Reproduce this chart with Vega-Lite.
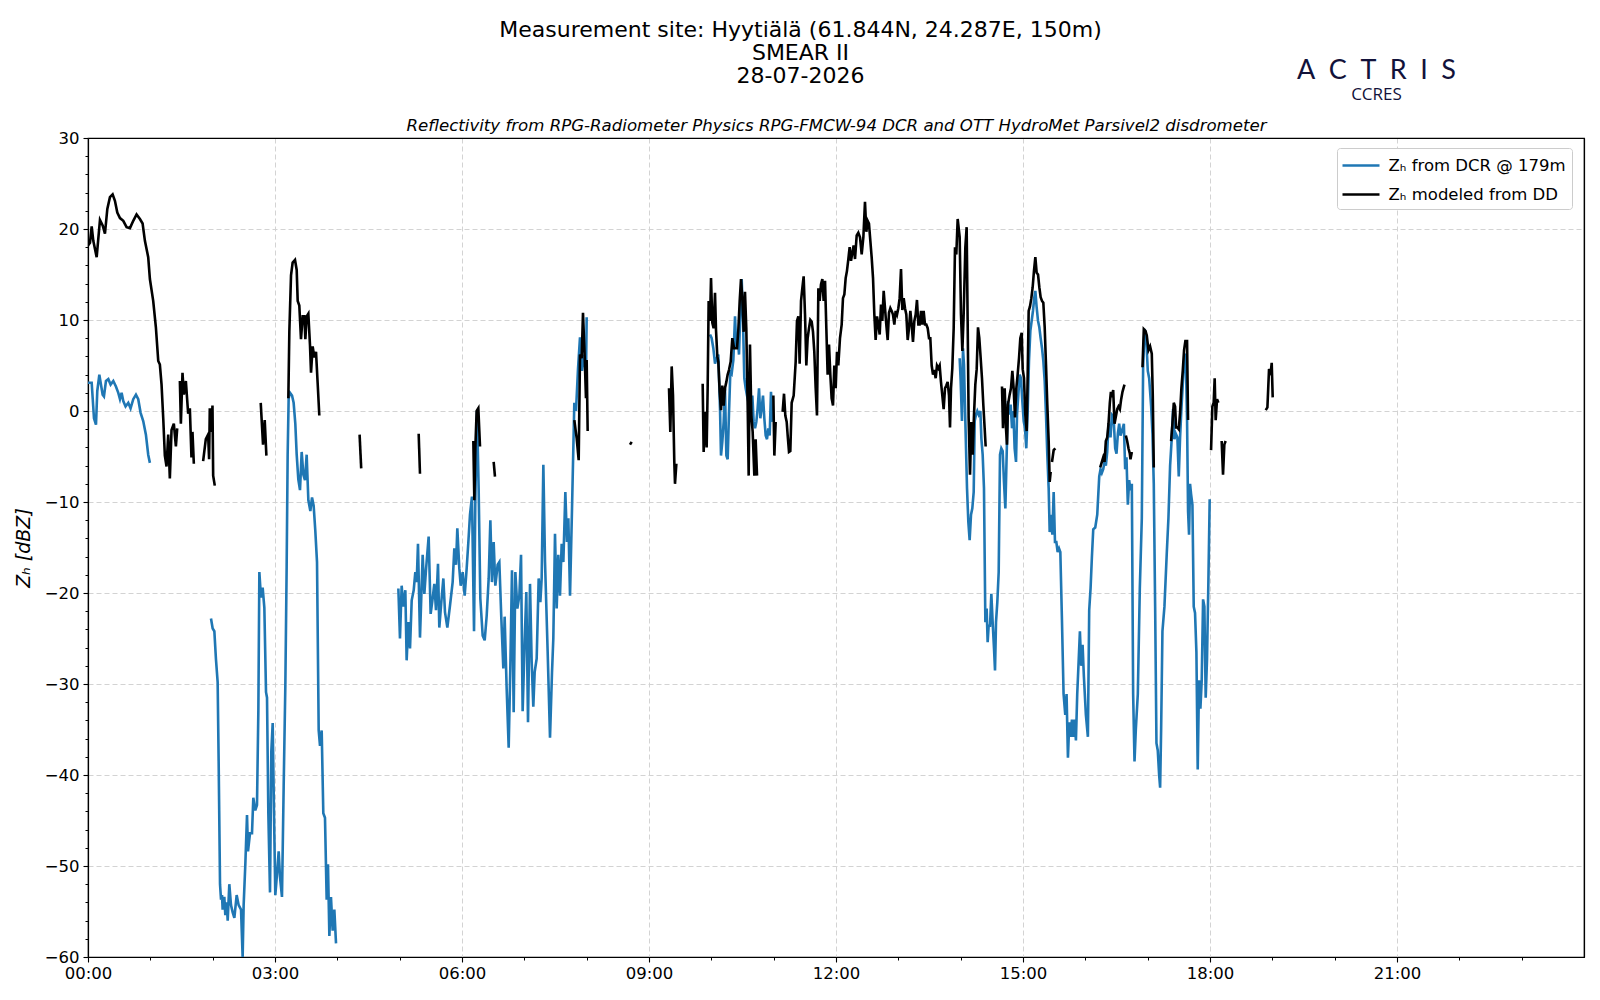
{
  "$schema": "https://vega.github.io/schema/vega-lite/v6.json",
  "width": 1496,
  "height": 819,
  "autosize": {"type": "none"},
  "padding": {"left": 88, "top": 138, "right": 16, "bottom": 43},
  "background": "white",
  "config": {
    "font": "DejaVu Sans",
    "view": {"stroke": "black", "strokeWidth": 1.2}
  },
  "data": {
    "values": [
      {"t":0.000,"z":3.1,"s":"DCR","g":"c1"},{"t":0.059,"z":3.1,"s":"DCR","g":"c1"},{"t":0.096,"z":-0.8,"s":"DCR","g":"c1"},{"t":0.128,"z":-1.5,"s":"DCR","g":"c1"},{"t":0.149,"z":2.2,"s":"DCR","g":"c1"},{"t":0.182,"z":4.0,"s":"DCR","g":"c1"},{"t":0.203,"z":3.1,"s":"DCR","g":"c1"},{"t":0.235,"z":1.8,"s":"DCR","g":"c1"},{"t":0.256,"z":1.6,"s":"DCR","g":"c1"},{"t":0.288,"z":3.3,"s":"DCR","g":"c1"},{"t":0.326,"z":3.5,"s":"DCR","g":"c1"},{"t":0.363,"z":2.9,"s":"DCR","g":"c1"},{"t":0.406,"z":3.3,"s":"DCR","g":"c1"},{"t":0.448,"z":2.7,"s":"DCR","g":"c1"},{"t":0.486,"z":2.0,"s":"DCR","g":"c1"},{"t":0.513,"z":1.3,"s":"DCR","g":"c1"},{"t":0.539,"z":2.0,"s":"DCR","g":"c1"},{"t":0.566,"z":1.1,"s":"DCR","g":"c1"},{"t":0.603,"z":0.5,"s":"DCR","g":"c1"},{"t":0.646,"z":0.9,"s":"DCR","g":"c1"},{"t":0.683,"z":0.3,"s":"DCR","g":"c1"},{"t":0.726,"z":1.3,"s":"DCR","g":"c1"},{"t":0.769,"z":1.8,"s":"DCR","g":"c1"},{"t":0.806,"z":1.3,"s":"DCR","g":"c1"},{"t":0.844,"z":-0.2,"s":"DCR","g":"c1"},{"t":0.886,"z":-1.1,"s":"DCR","g":"c1"},{"t":0.929,"z":-2.6,"s":"DCR","g":"c1"},{"t":0.966,"z":-4.8,"s":"DCR","g":"c1"},{"t":0.993,"z":-5.7,"s":"DCR","g":"c1"},

      {"t":1.973,"z":-22.8,"s":"DCR","g":"c2"},{"t":2.000,"z":-23.9,"s":"DCR","g":"c2"},{"t":2.027,"z":-24.2,"s":"DCR","g":"c2"},{"t":2.053,"z":-27.3,"s":"DCR","g":"c2"},{"t":2.080,"z":-29.8,"s":"DCR","g":"c2"},{"t":2.096,"z":-38.5,"s":"DCR","g":"c2"},{"t":2.118,"z":-52,"s":"DCR","g":"c2"},{"t":2.134,"z":-53.7,"s":"DCR","g":"c2"},{"t":2.150,"z":-53.2,"s":"DCR","g":"c2"},{"t":2.160,"z":-54.8,"s":"DCR","g":"c2"},{"t":2.187,"z":-53.4,"s":"DCR","g":"c2"},{"t":2.203,"z":-55.4,"s":"DCR","g":"c2"},{"t":2.225,"z":-54,"s":"DCR","g":"c2"},{"t":2.241,"z":-56,"s":"DCR","g":"c2"},{"t":2.267,"z":-52,"s":"DCR","g":"c2"},{"t":2.294,"z":-54.3,"s":"DCR","g":"c2"},{"t":2.321,"z":-55.1,"s":"DCR","g":"c2"},{"t":2.348,"z":-55.7,"s":"DCR","g":"c2"},{"t":2.385,"z":-53.2,"s":"DCR","g":"c2"},{"t":2.417,"z":-54.3,"s":"DCR","g":"c2"},{"t":2.455,"z":-54.8,"s":"DCR","g":"c2"},{"t":2.481,"z":-60,"s":"DCR","g":"c2"},{"t":2.497,"z":-54.3,"s":"DCR","g":"c2"},{"t":2.524,"z":-49.8,"s":"DCR","g":"c2"},{"t":2.551,"z":-44.4,"s":"DCR","g":"c2"},{"t":2.567,"z":-48.4,"s":"DCR","g":"c2"},{"t":2.599,"z":-46.4,"s":"DCR","g":"c2"},{"t":2.631,"z":-46.4,"s":"DCR","g":"c2"},{"t":2.652,"z":-42.5,"s":"DCR","g":"c2"},{"t":2.684,"z":-43.9,"s":"DCR","g":"c2"},{"t":2.711,"z":-43.3,"s":"DCR","g":"c2"},{"t":2.733,"z":-32.9,"s":"DCR","g":"c2"},{"t":2.749,"z":-17.7,"s":"DCR","g":"c2"},{"t":2.775,"z":-20.5,"s":"DCR","g":"c2"},{"t":2.802,"z":-19.4,"s":"DCR","g":"c2"},{"t":2.829,"z":-21.6,"s":"DCR","g":"c2"},{"t":2.856,"z":-30.9,"s":"DCR","g":"c2"},{"t":2.872,"z":-31.5,"s":"DCR","g":"c2"},{"t":2.893,"z":-44.2,"s":"DCR","g":"c2"},{"t":2.920,"z":-52.9,"s":"DCR","g":"c2"},{"t":2.941,"z":-37.4,"s":"DCR","g":"c2"},{"t":2.963,"z":-34.3,"s":"DCR","g":"c2"},{"t":2.984,"z":-44.2,"s":"DCR","g":"c2"},{"t":3.005,"z":-53.2,"s":"DCR","g":"c2"},{"t":3.032,"z":-50.9,"s":"DCR","g":"c2"},{"t":3.059,"z":-48.4,"s":"DCR","g":"c2"},{"t":3.080,"z":-51.2,"s":"DCR","g":"c2"},{"t":3.112,"z":-53.4,"s":"DCR","g":"c2"},{"t":3.139,"z":-41.3,"s":"DCR","g":"c2"},{"t":3.166,"z":-30.1,"s":"DCR","g":"c2"},{"t":3.187,"z":-17.1,"s":"DCR","g":"c2"},{"t":3.203,"z":-4.8,"s":"DCR","g":"c2"},{"t":3.219,"z":1.4,"s":"DCR","g":"c2"},{"t":3.241,"z":2.0,"s":"DCR","g":"c2"},{"t":3.273,"z":1.7,"s":"DCR","g":"c2"},{"t":3.299,"z":0.9,"s":"DCR","g":"c2"},{"t":3.326,"z":-1.4,"s":"DCR","g":"c2"},{"t":3.348,"z":-4.8,"s":"DCR","g":"c2"},{"t":3.374,"z":-7.5,"s":"DCR","g":"c2"},{"t":3.401,"z":-8.7,"s":"DCR","g":"c2"},{"t":3.428,"z":-4.5,"s":"DCR","g":"c2"},{"t":3.455,"z":-7.0,"s":"DCR","g":"c2"},{"t":3.481,"z":-7.6,"s":"DCR","g":"c2"},{"t":3.508,"z":-4.8,"s":"DCR","g":"c2"},{"t":3.535,"z":-9.8,"s":"DCR","g":"c2"},{"t":3.567,"z":-11,"s":"DCR","g":"c2"},{"t":3.594,"z":-9.5,"s":"DCR","g":"c2"},{"t":3.620,"z":-10.4,"s":"DCR","g":"c2"},{"t":3.647,"z":-13.2,"s":"DCR","g":"c2"},{"t":3.674,"z":-16.6,"s":"DCR","g":"c2"},{"t":3.701,"z":-35.1,"s":"DCR","g":"c2"},{"t":3.722,"z":-36.8,"s":"DCR","g":"c2"},{"t":3.749,"z":-35.1,"s":"DCR","g":"c2"},{"t":3.775,"z":-44.2,"s":"DCR","g":"c2"},{"t":3.802,"z":-44.7,"s":"DCR","g":"c2"},{"t":3.829,"z":-53.7,"s":"DCR","g":"c2"},{"t":3.850,"z":-49.8,"s":"DCR","g":"c2"},{"t":3.872,"z":-57.7,"s":"DCR","g":"c2"},{"t":3.898,"z":-53.4,"s":"DCR","g":"c2"},{"t":3.925,"z":-57.1,"s":"DCR","g":"c2"},{"t":3.952,"z":-54.8,"s":"DCR","g":"c2"},{"t":3.979,"z":-58.5,"s":"DCR","g":"c2"},

      {"t":4.979,"z":-19.5,"s":"DCR","g":"c3"},{"t":5.005,"z":-25,"s":"DCR","g":"c3"},{"t":5.032,"z":-19.2,"s":"DCR","g":"c3"},{"t":5.059,"z":-21.5,"s":"DCR","g":"c3"},{"t":5.091,"z":-19.7,"s":"DCR","g":"c3"},{"t":5.112,"z":-27.4,"s":"DCR","g":"c3"},{"t":5.139,"z":-23.2,"s":"DCR","g":"c3"},{"t":5.166,"z":-26.1,"s":"DCR","g":"c3"},{"t":5.193,"z":-20.8,"s":"DCR","g":"c3"},{"t":5.225,"z":-19.7,"s":"DCR","g":"c3"},{"t":5.251,"z":-17.7,"s":"DCR","g":"c3"},{"t":5.273,"z":-18.8,"s":"DCR","g":"c3"},{"t":5.294,"z":-14.6,"s":"DCR","g":"c3"},{"t":5.326,"z":-24.9,"s":"DCR","g":"c3"},{"t":5.369,"z":-15.8,"s":"DCR","g":"c3"},{"t":5.396,"z":-20.1,"s":"DCR","g":"c3"},{"t":5.422,"z":-17.5,"s":"DCR","g":"c3"},{"t":5.465,"z":-13.8,"s":"DCR","g":"c3"},{"t":5.497,"z":-22.3,"s":"DCR","g":"c3"},{"t":5.529,"z":-20.6,"s":"DCR","g":"c3"},{"t":5.556,"z":-19,"s":"DCR","g":"c3"},{"t":5.583,"z":-21.9,"s":"DCR","g":"c3"},{"t":5.615,"z":-16.8,"s":"DCR","g":"c3"},{"t":5.636,"z":-23.8,"s":"DCR","g":"c3"},{"t":5.668,"z":-21,"s":"DCR","g":"c3"},{"t":5.701,"z":-18.4,"s":"DCR","g":"c3"},{"t":5.727,"z":-22.1,"s":"DCR","g":"c3"},{"t":5.765,"z":-23.8,"s":"DCR","g":"c3"},{"t":5.807,"z":-21.4,"s":"DCR","g":"c3"},{"t":5.850,"z":-18.8,"s":"DCR","g":"c3"},{"t":5.877,"z":-15.1,"s":"DCR","g":"c3"},{"t":5.904,"z":-16.9,"s":"DCR","g":"c3"},{"t":5.925,"z":-12.9,"s":"DCR","g":"c3"},{"t":5.957,"z":-17.3,"s":"DCR","g":"c3"},{"t":5.979,"z":-19.2,"s":"DCR","g":"c3"},{"t":6.011,"z":-17.7,"s":"DCR","g":"c3"},{"t":6.043,"z":-20.3,"s":"DCR","g":"c3"},{"t":6.075,"z":-17.3,"s":"DCR","g":"c3"},{"t":6.102,"z":-14.4,"s":"DCR","g":"c3"},{"t":6.128,"z":-11.4,"s":"DCR","g":"c3"},{"t":6.160,"z":-9.4,"s":"DCR","g":"c3"},{"t":6.193,"z":-24.2,"s":"DCR","g":"c3"},{"t":6.214,"z":-9.6,"s":"DCR","g":"c3"},{"t":6.241,"z":0.0,"s":"DCR","g":"c3"},{"t":6.267,"z":-8.5,"s":"DCR","g":"c3"},{"t":6.294,"z":-20.6,"s":"DCR","g":"c3"},{"t":6.332,"z":-24.7,"s":"DCR","g":"c3"},{"t":6.364,"z":-25.2,"s":"DCR","g":"c3"},{"t":6.396,"z":-22.5,"s":"DCR","g":"c3"},{"t":6.428,"z":-18.4,"s":"DCR","g":"c3"},{"t":6.455,"z":-12,"s":"DCR","g":"c3"},{"t":6.481,"z":-18.8,"s":"DCR","g":"c3"},{"t":6.508,"z":-14.4,"s":"DCR","g":"c3"},{"t":6.535,"z":-19.2,"s":"DCR","g":"c3"},{"t":6.572,"z":-16.9,"s":"DCR","g":"c3"},{"t":6.599,"z":-16.6,"s":"DCR","g":"c3"},{"t":6.631,"z":-22.8,"s":"DCR","g":"c3"},{"t":6.663,"z":-28.3,"s":"DCR","g":"c3"},{"t":6.684,"z":-22.6,"s":"DCR","g":"c3"},{"t":6.717,"z":-30.6,"s":"DCR","g":"c3"},{"t":6.749,"z":-37,"s":"DCR","g":"c3"},{"t":6.775,"z":-28.3,"s":"DCR","g":"c3"},{"t":6.802,"z":-17.5,"s":"DCR","g":"c3"},{"t":6.829,"z":-33.1,"s":"DCR","g":"c3"},{"t":6.856,"z":-17.7,"s":"DCR","g":"c3"},{"t":6.888,"z":-21.7,"s":"DCR","g":"c3"},{"t":6.920,"z":-20.3,"s":"DCR","g":"c3"},{"t":6.947,"z":-15.8,"s":"DCR","g":"c3"},{"t":6.973,"z":-33,"s":"DCR","g":"c3"},{"t":7.005,"z":-25.4,"s":"DCR","g":"c3"},{"t":7.032,"z":-19.9,"s":"DCR","g":"c3"},{"t":7.059,"z":-34.2,"s":"DCR","g":"c3"},{"t":7.091,"z":-19,"s":"DCR","g":"c3"},{"t":7.118,"z":-27.6,"s":"DCR","g":"c3"},{"t":7.144,"z":-32.5,"s":"DCR","g":"c3"},{"t":7.166,"z":-28.7,"s":"DCR","g":"c3"},{"t":7.198,"z":-27.2,"s":"DCR","g":"c3"},{"t":7.230,"z":-18.4,"s":"DCR","g":"c3"},{"t":7.257,"z":-21,"s":"DCR","g":"c3"},{"t":7.278,"z":-18.4,"s":"DCR","g":"c3"},{"t":7.305,"z":-5.9,"s":"DCR","g":"c3"},{"t":7.332,"z":-16.6,"s":"DCR","g":"c3"},{"t":7.374,"z":-26.4,"s":"DCR","g":"c3"},{"t":7.412,"z":-35.9,"s":"DCR","g":"c3"},{"t":7.444,"z":-28.7,"s":"DCR","g":"c3"},{"t":7.465,"z":-25,"s":"DCR","g":"c3"},{"t":7.492,"z":-13.5,"s":"DCR","g":"c3"},{"t":7.519,"z":-21.7,"s":"DCR","g":"c3"},{"t":7.545,"z":-15.8,"s":"DCR","g":"c3"},{"t":7.572,"z":-20.3,"s":"DCR","g":"c3"},{"t":7.599,"z":-14.6,"s":"DCR","g":"c3"},{"t":7.626,"z":-16.6,"s":"DCR","g":"c3"},{"t":7.658,"z":-8.9,"s":"DCR","g":"c3"},{"t":7.684,"z":-14.4,"s":"DCR","g":"c3"},{"t":7.706,"z":-11.8,"s":"DCR","g":"c3"},{"t":7.733,"z":-20.3,"s":"DCR","g":"c3"},{"t":7.765,"z":-10.7,"s":"DCR","g":"c3"},{"t":7.802,"z":0.9,"s":"DCR","g":"c3"},{"t":7.829,"z":0,"s":"DCR","g":"c3"},{"t":7.861,"z":4.6,"s":"DCR","g":"c3"},{"t":7.893,"z":8.1,"s":"DCR","g":"c3"},{"t":7.925,"z":4.4,"s":"DCR","g":"c3"},{"t":7.957,"z":6.2,"s":"DCR","g":"c3"},{"t":7.989,"z":4,"s":"DCR","g":"c3"},{"t":8.000,"z":10.3,"s":"DCR","g":"c3"},

      {"t":9.979,"z":8.4,"s":"DCR","g":"c4"},{"t":10.005,"z":8,"s":"DCR","g":"c4"},{"t":10.032,"z":6.9,"s":"DCR","g":"c4"},{"t":10.059,"z":5.2,"s":"DCR","g":"c4"},{"t":10.086,"z":5.8,"s":"DCR","g":"c4"},{"t":10.112,"z":6.2,"s":"DCR","g":"c4"},{"t":10.139,"z":0.3,"s":"DCR","g":"c4"},{"t":10.155,"z":-4.9,"s":"DCR","g":"c4"},{"t":10.176,"z":-3.4,"s":"DCR","g":"c4"},{"t":10.198,"z":-1.2,"s":"DCR","g":"c4"},{"t":10.219,"z":2.5,"s":"DCR","g":"c4"},{"t":10.241,"z":-4.9,"s":"DCR","g":"c4"},{"t":10.262,"z":-5.3,"s":"DCR","g":"c4"},{"t":10.283,"z":-0.3,"s":"DCR","g":"c4"},{"t":10.305,"z":4.3,"s":"DCR","g":"c4"},{"t":10.326,"z":4.1,"s":"DCR","g":"c4"},{"t":10.353,"z":5.6,"s":"DCR","g":"c4"},{"t":10.380,"z":10.4,"s":"DCR","g":"c4"},{"t":10.401,"z":6.9,"s":"DCR","g":"c4"},{"t":10.422,"z":8.4,"s":"DCR","g":"c4"},{"t":10.444,"z":6.2,"s":"DCR","g":"c4"},{"t":10.465,"z":11,"s":"DCR","g":"c4"},{"t":10.487,"z":14.5,"s":"DCR","g":"c4"},{"t":10.508,"z":9.9,"s":"DCR","g":"c4"},{"t":10.529,"z":3.6,"s":"DCR","g":"c4"},{"t":10.551,"z":2.5,"s":"DCR","g":"c4"},{"t":10.572,"z":1.7,"s":"DCR","g":"c4"},{"t":10.594,"z":1,"s":"DCR","g":"c4"},{"t":10.615,"z":-1.2,"s":"DCR","g":"c4"},{"t":10.636,"z":-0.5,"s":"DCR","g":"c4"},{"t":10.658,"z":1.7,"s":"DCR","g":"c4"},{"t":10.679,"z":-1.2,"s":"DCR","g":"c4"},{"t":10.701,"z":-1.9,"s":"DCR","g":"c4"},{"t":10.722,"z":-1.2,"s":"DCR","g":"c4"},{"t":10.743,"z":0.3,"s":"DCR","g":"c4"},{"t":10.765,"z":2.5,"s":"DCR","g":"c4"},{"t":10.786,"z":-0.8,"s":"DCR","g":"c4"},{"t":10.807,"z":0.3,"s":"DCR","g":"c4"},{"t":10.829,"z":1.7,"s":"DCR","g":"c4"},{"t":10.850,"z":-0.8,"s":"DCR","g":"c4"},{"t":10.872,"z":-2.7,"s":"DCR","g":"c4"},{"t":10.893,"z":-3.1,"s":"DCR","g":"c4"},{"t":10.914,"z":-1.9,"s":"DCR","g":"c4"},{"t":10.936,"z":-2.7,"s":"DCR","g":"c4"},{"t":10.957,"z":2.1,"s":"DCR","g":"c4"},{"t":10.979,"z":-1.2,"s":"DCR","g":"c4"},

      {"t":13.984,"z":5.8,"s":"DCR","g":"c5"},{"t":14.000,"z":3.3,"s":"DCR","g":"c5"},{"t":14.021,"z":-1.1,"s":"DCR","g":"c5"},{"t":14.037,"z":6.9,"s":"DCR","g":"c5"},{"t":14.053,"z":5.1,"s":"DCR","g":"c5"},{"t":14.075,"z":-1.1,"s":"DCR","g":"c5"},{"t":14.102,"z":-8.5,"s":"DCR","g":"c5"},{"t":14.123,"z":-12.2,"s":"DCR","g":"c5"},{"t":14.144,"z":-14.2,"s":"DCR","g":"c5"},{"t":14.166,"z":-11.4,"s":"DCR","g":"c5"},{"t":14.187,"z":-10.7,"s":"DCR","g":"c5"},{"t":14.209,"z":-8.9,"s":"DCR","g":"c5"},{"t":14.225,"z":-1.1,"s":"DCR","g":"c5"},{"t":14.246,"z":-0.4,"s":"DCR","g":"c5"},{"t":14.267,"z":0,"s":"DCR","g":"c5"},{"t":14.289,"z":-0.4,"s":"DCR","g":"c5"},{"t":14.316,"z":0,"s":"DCR","g":"c5"},{"t":14.332,"z":-3,"s":"DCR","g":"c5"},{"t":14.353,"z":-4.8,"s":"DCR","g":"c5"},{"t":14.374,"z":-8.5,"s":"DCR","g":"c5"},{"t":14.385,"z":-15.9,"s":"DCR","g":"c5"},{"t":14.396,"z":-23.2,"s":"DCR","g":"c5"},{"t":14.417,"z":-21.7,"s":"DCR","g":"c5"},{"t":14.433,"z":-25.4,"s":"DCR","g":"c5"},{"t":14.449,"z":-23.6,"s":"DCR","g":"c5"},{"t":14.471,"z":-23.6,"s":"DCR","g":"c5"},{"t":14.492,"z":-20.1,"s":"DCR","g":"c5"},{"t":14.513,"z":-23.2,"s":"DCR","g":"c5"},{"t":14.535,"z":-26.1,"s":"DCR","g":"c5"},{"t":14.551,"z":-28.5,"s":"DCR","g":"c5"},{"t":14.567,"z":-23.2,"s":"DCR","g":"c5"},{"t":14.588,"z":-21,"s":"DCR","g":"c5"},{"t":14.610,"z":-17.7,"s":"DCR","g":"c5"},{"t":14.631,"z":-4.8,"s":"DCR","g":"c5"},{"t":14.652,"z":-4.1,"s":"DCR","g":"c5"},{"t":14.674,"z":-4.4,"s":"DCR","g":"c5"},{"t":14.695,"z":-7.8,"s":"DCR","g":"c5"},{"t":14.717,"z":-10.7,"s":"DCR","g":"c5"},{"t":14.738,"z":-4.8,"s":"DCR","g":"c5"},{"t":14.759,"z":1.1,"s":"DCR","g":"c5"},{"t":14.781,"z":-0.4,"s":"DCR","g":"c5"},{"t":14.802,"z":0.7,"s":"DCR","g":"c5"},{"t":14.824,"z":-1.9,"s":"DCR","g":"c5"},{"t":14.845,"z":0,"s":"DCR","g":"c5"},{"t":14.866,"z":-4.1,"s":"DCR","g":"c5"},{"t":14.888,"z":-5.6,"s":"DCR","g":"c5"},{"t":14.904,"z":-0.4,"s":"DCR","g":"c5"},{"t":14.925,"z":1.8,"s":"DCR","g":"c5"},{"t":14.947,"z":4,"s":"DCR","g":"c5"},{"t":14.968,"z":3.6,"s":"DCR","g":"c5"},{"t":14.989,"z":1.1,"s":"DCR","g":"c5"},{"t":15.011,"z":-1.1,"s":"DCR","g":"c5"},{"t":15.032,"z":-1.9,"s":"DCR","g":"c5"},{"t":15.053,"z":-4.1,"s":"DCR","g":"c5"},{"t":15.075,"z":0,"s":"DCR","g":"c5"},{"t":15.096,"z":5.5,"s":"DCR","g":"c5"},{"t":15.118,"z":8.8,"s":"DCR","g":"c5"},{"t":15.139,"z":9.9,"s":"DCR","g":"c5"},{"t":15.160,"z":11,"s":"DCR","g":"c5"},{"t":15.182,"z":12.5,"s":"DCR","g":"c5"},{"t":15.198,"z":13.2,"s":"DCR","g":"c5"},{"t":15.219,"z":11.4,"s":"DCR","g":"c5"},{"t":15.241,"z":9.9,"s":"DCR","g":"c5"},{"t":15.262,"z":9.2,"s":"DCR","g":"c5"},{"t":15.283,"z":8,"s":"DCR","g":"c5"},{"t":15.305,"z":6.9,"s":"DCR","g":"c5"},{"t":15.326,"z":5.5,"s":"DCR","g":"c5"},{"t":15.348,"z":3.3,"s":"DCR","g":"c5"},{"t":15.369,"z":-0.4,"s":"DCR","g":"c5"},{"t":15.390,"z":-4.8,"s":"DCR","g":"c5"},{"t":15.412,"z":-8.5,"s":"DCR","g":"c5"},{"t":15.428,"z":-13.3,"s":"DCR","g":"c5"},{"t":15.449,"z":-11.4,"s":"DCR","g":"c5"},{"t":15.471,"z":-13.6,"s":"DCR","g":"c5"},{"t":15.492,"z":-8.9,"s":"DCR","g":"c5"},{"t":15.513,"z":-14.4,"s":"DCR","g":"c5"},{"t":15.535,"z":-14.4,"s":"DCR","g":"c5"},{"t":15.556,"z":-15.5,"s":"DCR","g":"c5"},{"t":15.578,"z":-15.1,"s":"DCR","g":"c5"},{"t":15.599,"z":-15.5,"s":"DCR","g":"c5"},{"t":15.625,"z":-23,"s":"DCR","g":"c5"},{"t":15.651,"z":-31.1,"s":"DCR","g":"c5"},{"t":15.678,"z":-33.4,"s":"DCR","g":"c5"},{"t":15.699,"z":-31.1,"s":"DCR","g":"c5"},{"t":15.721,"z":-38.1,"s":"DCR","g":"c5"},{"t":15.742,"z":-34.2,"s":"DCR","g":"c5"},{"t":15.763,"z":-35.8,"s":"DCR","g":"c5"},{"t":15.785,"z":-33.9,"s":"DCR","g":"c5"},{"t":15.806,"z":-35.8,"s":"DCR","g":"c5"},{"t":15.828,"z":-33.9,"s":"DCR","g":"c5"},{"t":15.849,"z":-36.2,"s":"DCR","g":"c5"},{"t":15.870,"z":-31.1,"s":"DCR","g":"c5"},{"t":15.892,"z":-27.6,"s":"DCR","g":"c5"},{"t":15.913,"z":-24.2,"s":"DCR","g":"c5"},{"t":15.934,"z":-28,"s":"DCR","g":"c5"},{"t":15.956,"z":-25.7,"s":"DCR","g":"c5"},{"t":15.977,"z":-29.2,"s":"DCR","g":"c5"},{"t":16.009,"z":-33.4,"s":"DCR","g":"c5"},{"t":16.041,"z":-35.8,"s":"DCR","g":"c5"},{"t":16.062,"z":-21.9,"s":"DCR","g":"c5"},{"t":16.084,"z":-19.5,"s":"DCR","g":"c5"},{"t":16.105,"z":-16.1,"s":"DCR","g":"c5"},{"t":16.127,"z":-13,"s":"DCR","g":"c5"},{"t":16.159,"z":-12.8,"s":"DCR","g":"c5"},{"t":16.191,"z":-11.4,"s":"DCR","g":"c5"},{"t":16.223,"z":-7.2,"s":"DCR","g":"c5"},{"t":16.244,"z":-6.4,"s":"DCR","g":"c5"},{"t":16.265,"z":-6.8,"s":"DCR","g":"c5"},{"t":16.287,"z":-6.4,"s":"DCR","g":"c5"},{"t":16.308,"z":-5.6,"s":"DCR","g":"c5"},{"t":16.329,"z":-6,"s":"DCR","g":"c5"},{"t":16.351,"z":-4.5,"s":"DCR","g":"c5"},{"t":16.372,"z":-1.4,"s":"DCR","g":"c5"},{"t":16.404,"z":-2.9,"s":"DCR","g":"c5"},{"t":16.426,"z":-0.4,"s":"DCR","g":"c5"},{"t":16.452,"z":-0.6,"s":"DCR","g":"c5"},{"t":16.479,"z":-4.1,"s":"DCR","g":"c5"},{"t":16.500,"z":-4.7,"s":"DCR","g":"c5"},{"t":16.522,"z":-2.5,"s":"DCR","g":"c5"},{"t":16.543,"z":-1.4,"s":"DCR","g":"c5"},{"t":16.564,"z":-2.7,"s":"DCR","g":"c5"},{"t":16.596,"z":-2,"s":"DCR","g":"c5"},{"t":16.618,"z":-1.4,"s":"DCR","g":"c5"},{"t":16.639,"z":-6.4,"s":"DCR","g":"c5"},{"t":16.660,"z":-5.1,"s":"DCR","g":"c5"},{"t":16.682,"z":-10.3,"s":"DCR","g":"c5"},{"t":16.703,"z":-7.6,"s":"DCR","g":"c5"},{"t":16.724,"z":-8.7,"s":"DCR","g":"c5"},{"t":16.746,"z":-8,"s":"DCR","g":"c5"},{"t":16.767,"z":-31.1,"s":"DCR","g":"c5"},{"t":16.789,"z":-38.5,"s":"DCR","g":"c5"},{"t":16.810,"z":-35,"s":"DCR","g":"c5"},{"t":16.842,"z":-31.1,"s":"DCR","g":"c5"},{"t":16.874,"z":-19.5,"s":"DCR","g":"c5"},{"t":16.906,"z":-11.8,"s":"DCR","g":"c5"},{"t":16.927,"z":4.8,"s":"DCR","g":"c5"},{"t":16.949,"z":9,"s":"DCR","g":"c5"},{"t":16.975,"z":8.3,"s":"DCR","g":"c5"},{"t":17.002,"z":4.4,"s":"DCR","g":"c5"},{"t":17.024,"z":3.6,"s":"DCR","g":"c5"},{"t":17.056,"z":0.5,"s":"DCR","g":"c5"},{"t":17.077,"z":-2.5,"s":"DCR","g":"c5"},{"t":17.098,"z":-8,"s":"DCR","g":"c5"},{"t":17.120,"z":-21.5,"s":"DCR","g":"c5"},{"t":17.141,"z":-36.5,"s":"DCR","g":"c5"},{"t":17.162,"z":-37.3,"s":"DCR","g":"c5"},{"t":17.184,"z":-40,"s":"DCR","g":"c5"},{"t":17.200,"z":-41.4,"s":"DCR","g":"c5"},{"t":17.216,"z":-35,"s":"DCR","g":"c5"},{"t":17.237,"z":-24.2,"s":"DCR","g":"c5"},{"t":17.269,"z":-21.5,"s":"DCR","g":"c5"},{"t":17.306,"z":-15.7,"s":"DCR","g":"c5"},{"t":17.333,"z":-11.8,"s":"DCR","g":"c5"},{"t":17.360,"z":-6,"s":"DCR","g":"c5"},{"t":17.387,"z":-2.9,"s":"DCR","g":"c5"},{"t":17.408,"z":0.2,"s":"DCR","g":"c5"},{"t":17.429,"z":-3.1,"s":"DCR","g":"c5"},{"t":17.451,"z":-2.5,"s":"DCR","g":"c5"},{"t":17.477,"z":-2.9,"s":"DCR","g":"c5"},{"t":17.499,"z":-7.2,"s":"DCR","g":"c5"},{"t":17.520,"z":-2.9,"s":"DCR","g":"c5"},{"t":17.541,"z":0.2,"s":"DCR","g":"c5"},{"t":17.563,"z":2.9,"s":"DCR","g":"c5"},{"t":17.589,"z":5.9,"s":"DCR","g":"c5"},{"t":17.611,"z":6.3,"s":"DCR","g":"c5"},{"t":17.632,"z":-1,"s":"DCR","g":"c5"},{"t":17.648,"z":-11,"s":"DCR","g":"c5"},{"t":17.664,"z":-13.6,"s":"DCR","g":"c5"},{"t":17.680,"z":-8,"s":"DCR","g":"c5"},{"t":17.696,"z":-9.1,"s":"DCR","g":"c5"},{"t":17.718,"z":-10.3,"s":"DCR","g":"c5"},{"t":17.739,"z":-21.5,"s":"DCR","g":"c5"},{"t":17.760,"z":-22.2,"s":"DCR","g":"c5"},{"t":17.782,"z":-26.5,"s":"DCR","g":"c5"},{"t":17.803,"z":-39.4,"s":"DCR","g":"c5"},{"t":17.824,"z":-29.6,"s":"DCR","g":"c5"},{"t":17.846,"z":-32.7,"s":"DCR","g":"c5"},{"t":17.867,"z":-29.6,"s":"DCR","g":"c5"},{"t":17.889,"z":-20.7,"s":"DCR","g":"c5"},{"t":17.910,"z":-21.5,"s":"DCR","g":"c5"},{"t":17.931,"z":-31.5,"s":"DCR","g":"c5"},{"t":17.952,"z":-27.3,"s":"DCR","g":"c5"},{"t":17.974,"z":-18.8,"s":"DCR","g":"c5"},{"t":17.995,"z":-9.7,"s":"DCR","g":"c5"},

      {"t":0.000,"z":18.2,"s":"DD","g":"k1"},{"t":0.032,"z":18.5,"s":"DD","g":"k1"},{"t":0.059,"z":20.3,"s":"DD","g":"k1"},{"t":0.085,"z":18.7,"s":"DD","g":"k1"},{"t":0.139,"z":16.9,"s":"DD","g":"k1"},{"t":0.192,"z":21.0,"s":"DD","g":"k1"},{"t":0.235,"z":20.4,"s":"DD","g":"k1"},{"t":0.272,"z":19.5,"s":"DD","g":"k1"},{"t":0.310,"z":22.2,"s":"DD","g":"k1"},{"t":0.352,"z":23.5,"s":"DD","g":"k1"},{"t":0.395,"z":23.8,"s":"DD","g":"k1"},{"t":0.432,"z":23.1,"s":"DD","g":"k1"},{"t":0.470,"z":21.8,"s":"DD","g":"k1"},{"t":0.513,"z":21.2,"s":"DD","g":"k1"},{"t":0.566,"z":20.9,"s":"DD","g":"k1"},{"t":0.619,"z":20.2,"s":"DD","g":"k1"},{"t":0.673,"z":20.1,"s":"DD","g":"k1"},{"t":0.726,"z":20.9,"s":"DD","g":"k1"},{"t":0.779,"z":21.6,"s":"DD","g":"k1"},{"t":0.833,"z":21.1,"s":"DD","g":"k1"},{"t":0.876,"z":20.6,"s":"DD","g":"k1"},{"t":0.913,"z":18.7,"s":"DD","g":"k1"},{"t":0.966,"z":16.9,"s":"DD","g":"k1"},{"t":0.993,"z":14.5,"s":"DD","g":"k1"},{"t":1.046,"z":12.1,"s":"DD","g":"k1"},{"t":1.089,"z":9.2,"s":"DD","g":"k1"},{"t":1.127,"z":5.5,"s":"DD","g":"k1"},{"t":1.153,"z":5.1,"s":"DD","g":"k1"},{"t":1.180,"z":2.9,"s":"DD","g":"k1"},{"t":1.207,"z":-0.8,"s":"DD","g":"k1"},{"t":1.233,"z":-4.9,"s":"DD","g":"k1"},{"t":1.260,"z":-6.1,"s":"DD","g":"k1"},{"t":1.287,"z":-2.6,"s":"DD","g":"k1"},{"t":1.313,"z":-7.4,"s":"DD","g":"k1"},{"t":1.340,"z":-2.1,"s":"DD","g":"k1"},{"t":1.377,"z":-1.4,"s":"DD","g":"k1"},{"t":1.410,"z":-3.9,"s":"DD","g":"k1"},{"t":1.431,"z":-1.9,"s":"DD","g":"k1"},
      {"t":1.474,"z":3.3,"s":"DD","g":"k2"},{"t":1.490,"z":-1.4,"s":"DD","g":"k2"},{"t":1.516,"z":4.2,"s":"DD","g":"k2"},{"t":1.538,"z":1.8,"s":"DD","g":"k2"},{"t":1.570,"z":3.3,"s":"DD","g":"k2"},{"t":1.607,"z":-0.3,"s":"DD","g":"k2"},{"t":1.634,"z":0.3,"s":"DD","g":"k2"},{"t":1.660,"z":-5.1,"s":"DD","g":"k2"},{"t":1.676,"z":-2.3,"s":"DD","g":"k2"},{"t":1.698,"z":-5.8,"s":"DD","g":"k2"},
      {"t":1.847,"z":-5.5,"s":"DD","g":"k3"},{"t":1.890,"z":-3.1,"s":"DD","g":"k3"},{"t":1.927,"z":-2.6,"s":"DD","g":"k3"},{"t":1.943,"z":-5.3,"s":"DD","g":"k3"},{"t":1.954,"z":0.3,"s":"DD","g":"k3"},{"t":1.981,"z":-2.3,"s":"DD","g":"k3"},{"t":1.997,"z":0.6,"s":"DD","g":"k3"},{"t":2.008,"z":-7.1,"s":"DD","g":"k3"},{"t":2.034,"z":-8.2,"s":"DD","g":"k3"},
      {"t":2.771,"z":0.9,"s":"DD","g":"k4"},{"t":2.808,"z":-3.7,"s":"DD","g":"k4"},{"t":2.835,"z":-1.0,"s":"DD","g":"k4"},{"t":2.862,"z":-4.9,"s":"DD","g":"k4"},
      {"t":3.214,"z":1.4,"s":"DD","g":"k5"},{"t":3.230,"z":8.7,"s":"DD","g":"k5"},{"t":3.257,"z":14.9,"s":"DD","g":"k5"},{"t":3.283,"z":16.3,"s":"DD","g":"k5"},{"t":3.321,"z":16.6,"s":"DD","g":"k5"},{"t":3.348,"z":15.5,"s":"DD","g":"k5"},{"t":3.364,"z":12.1,"s":"DD","g":"k5"},{"t":3.390,"z":11.6,"s":"DD","g":"k5"},{"t":3.417,"z":7.9,"s":"DD","g":"k5"},{"t":3.444,"z":10.4,"s":"DD","g":"k5"},{"t":3.471,"z":10.4,"s":"DD","g":"k5"},{"t":3.487,"z":7.9,"s":"DD","g":"k5"},{"t":3.508,"z":10.4,"s":"DD","g":"k5"},{"t":3.535,"z":10.7,"s":"DD","g":"k5"},{"t":3.561,"z":7.3,"s":"DD","g":"k5"},{"t":3.578,"z":4.2,"s":"DD","g":"k5"},{"t":3.604,"z":7.1,"s":"DD","g":"k5"},{"t":3.631,"z":5.9,"s":"DD","g":"k5"},{"t":3.658,"z":6.5,"s":"DD","g":"k5"},{"t":3.684,"z":3.1,"s":"DD","g":"k5"},{"t":3.711,"z":-0.5,"s":"DD","g":"k5"},
      {"t":4.357,"z":-2.6,"s":"DD","g":"k6"},{"t":4.383,"z":-6.3,"s":"DD","g":"k6"},
      {"t":5.305,"z":-2.5,"s":"DD","g":"k7"},{"t":5.326,"z":-6.9,"s":"DD","g":"k7"},
      {"t":6.182,"z":-3.3,"s":"DD","g":"k8"},{"t":6.198,"z":-9.8,"s":"DD","g":"k8"},{"t":6.214,"z":-4.1,"s":"DD","g":"k8"},{"t":6.235,"z":0.0,"s":"DD","g":"k8"},{"t":6.262,"z":0.3,"s":"DD","g":"k8"},{"t":6.289,"z":-3.9,"s":"DD","g":"k8"},
      {"t":6.508,"z":-5.6,"s":"DD","g":"k9"},{"t":6.529,"z":-7.2,"s":"DD","g":"k9"},
      {"t":7.802,"z":-1.0,"s":"DD","g":"k10"},{"t":7.840,"z":-3.0,"s":"DD","g":"k10"},{"t":7.872,"z":-5.4,"s":"DD","g":"k10"},{"t":7.893,"z":6.2,"s":"DD","g":"k10"},{"t":7.920,"z":5.8,"s":"DD","g":"k10"},{"t":7.941,"z":10.8,"s":"DD","g":"k10"},{"t":7.968,"z":6.0,"s":"DD","g":"k10"},{"t":7.989,"z":1.4,"s":"DD","g":"k10"},{"t":8.000,"z":5.6,"s":"DD","g":"k10"},{"t":8.016,"z":-2.2,"s":"DD","g":"k10"},
      {"t":8.695,"z":-3.7,"s":"DD","g":"k11"},{"t":8.722,"z":-3.4,"s":"DD","g":"k11"},
      {"t":9.321,"z":2.5,"s":"DD","g":"k12"},{"t":9.342,"z":-2.3,"s":"DD","g":"k12"},{"t":9.364,"z":4.9,"s":"DD","g":"k12"},{"t":9.385,"z":1.7,"s":"DD","g":"k12"},{"t":9.406,"z":-5.6,"s":"DD","g":"k12"},{"t":9.417,"z":-8.0,"s":"DD","g":"k12"},{"t":9.439,"z":-5.8,"s":"DD","g":"k12"},
      {"t":9.861,"z":3.0,"s":"DD","g":"k13"},{"t":9.877,"z":-4.5,"s":"DD","g":"k13"},{"t":9.898,"z":-0.1,"s":"DD","g":"k13"},{"t":9.925,"z":-4,"s":"DD","g":"k13"},{"t":9.941,"z":2.5,"s":"DD","g":"k13"},{"t":9.957,"z":12.1,"s":"DD","g":"k13"},{"t":9.979,"z":9.9,"s":"DD","g":"k13"},{"t":9.995,"z":14.6,"s":"DD","g":"k13"},{"t":10.016,"z":9.7,"s":"DD","g":"k13"},{"t":10.037,"z":9.1,"s":"DD","g":"k13"},{"t":10.059,"z":13,"s":"DD","g":"k13"},{"t":10.075,"z":8.9,"s":"DD","g":"k13"},{"t":10.096,"z":6,"s":"DD","g":"k13"},{"t":10.112,"z":5.4,"s":"DD","g":"k13"},{"t":10.134,"z":2.1,"s":"DD","g":"k13"},{"t":10.155,"z":0.1,"s":"DD","g":"k13"},{"t":10.176,"z":2.8,"s":"DD","g":"k13"},{"t":10.198,"z":0.6,"s":"DD","g":"k13"},{"t":10.219,"z":2.5,"s":"DD","g":"k13"},{"t":10.241,"z":3.2,"s":"DD","g":"k13"},{"t":10.262,"z":4,"s":"DD","g":"k13"},{"t":10.283,"z":4.5,"s":"DD","g":"k13"},{"t":10.310,"z":5.4,"s":"DD","g":"k13"},{"t":10.337,"z":8,"s":"DD","g":"k13"},{"t":10.364,"z":6.9,"s":"DD","g":"k13"},{"t":10.390,"z":6.9,"s":"DD","g":"k13"},{"t":10.412,"z":6.9,"s":"DD","g":"k13"},{"t":10.433,"z":8.9,"s":"DD","g":"k13"},{"t":10.455,"z":12.1,"s":"DD","g":"k13"},{"t":10.476,"z":14.5,"s":"DD","g":"k13"},{"t":10.497,"z":12.4,"s":"DD","g":"k13"},{"t":10.519,"z":8.7,"s":"DD","g":"k13"},{"t":10.540,"z":13.1,"s":"DD","g":"k13"},{"t":10.561,"z":9.1,"s":"DD","g":"k13"},{"t":10.583,"z":0.6,"s":"DD","g":"k13"},{"t":10.599,"z":-7.1,"s":"DD","g":"k13"},{"t":10.620,"z":7.3,"s":"DD","g":"k13"},{"t":10.642,"z":-0.5,"s":"DD","g":"k13"},{"t":10.663,"z":-2.3,"s":"DD","g":"k13"},{"t":10.690,"z":-7.1,"s":"DD","g":"k13"},{"t":10.711,"z":-3.1,"s":"DD","g":"k13"},{"t":10.733,"z":-7.1,"s":"DD","g":"k13"},
      {"t":10.995,"z":1.7,"s":"DD","g":"k14"},{"t":11.011,"z":-4.9,"s":"DD","g":"k14"},{"t":11.032,"z":-1.2,"s":"DD","g":"k14"},
      {"t":11.144,"z":-0.1,"s":"DD","g":"k15"},{"t":11.166,"z":1.9,"s":"DD","g":"k15"},{"t":11.187,"z":-0.5,"s":"DD","g":"k15"},{"t":11.209,"z":-1.2,"s":"DD","g":"k15"},{"t":11.225,"z":-2.7,"s":"DD","g":"k15"},{"t":11.246,"z":-4.5,"s":"DD","g":"k15"},{"t":11.267,"z":-4.4,"s":"DD","g":"k15"},{"t":11.289,"z":0.9,"s":"DD","g":"k15"},{"t":11.321,"z":1.7,"s":"DD","g":"k15"},{"t":11.353,"z":5.4,"s":"DD","g":"k15"},{"t":11.374,"z":9.9,"s":"DD","g":"k15"},{"t":11.396,"z":10.4,"s":"DD","g":"k15"},{"t":11.417,"z":5.2,"s":"DD","g":"k15"},{"t":11.439,"z":12.1,"s":"DD","g":"k15"},{"t":11.460,"z":13.5,"s":"DD","g":"k15"},{"t":11.481,"z":14.8,"s":"DD","g":"k15"},{"t":11.503,"z":10.6,"s":"DD","g":"k15"},{"t":11.524,"z":5,"s":"DD","g":"k15"},{"t":11.545,"z":8,"s":"DD","g":"k15"},{"t":11.567,"z":9.1,"s":"DD","g":"k15"},{"t":11.588,"z":10,"s":"DD","g":"k15"},{"t":11.610,"z":9.8,"s":"DD","g":"k15"},{"t":11.631,"z":8.7,"s":"DD","g":"k15"},{"t":11.652,"z":6.5,"s":"DD","g":"k15"},{"t":11.674,"z":2.5,"s":"DD","g":"k15"},{"t":11.695,"z":-0.5,"s":"DD","g":"k15"},{"t":11.717,"z":13.5,"s":"DD","g":"k15"},{"t":11.738,"z":12.1,"s":"DD","g":"k15"},{"t":11.759,"z":13.9,"s":"DD","g":"k15"},{"t":11.781,"z":14.5,"s":"DD","g":"k15"},{"t":11.802,"z":12.1,"s":"DD","g":"k15"},{"t":11.824,"z":14.3,"s":"DD","g":"k15"},{"t":11.845,"z":9.1,"s":"DD","g":"k15"},{"t":11.866,"z":4,"s":"DD","g":"k15"},{"t":11.888,"z":7.3,"s":"DD","g":"k15"},{"t":11.909,"z":4,"s":"DD","g":"k15"},{"t":11.930,"z":1.4,"s":"DD","g":"k15"},{"t":11.952,"z":0.6,"s":"DD","g":"k15"},{"t":11.973,"z":5,"s":"DD","g":"k15"},{"t":11.995,"z":2.5,"s":"DD","g":"k15"},{"t":12.016,"z":6.5,"s":"DD","g":"k15"},{"t":12.037,"z":5,"s":"DD","g":"k15"},{"t":12.064,"z":8,"s":"DD","g":"k15"},{"t":12.091,"z":9.5,"s":"DD","g":"k15"},{"t":12.112,"z":12.4,"s":"DD","g":"k15"},{"t":12.134,"z":12.8,"s":"DD","g":"k15"},{"t":12.155,"z":14.6,"s":"DD","g":"k15"},{"t":12.176,"z":15.4,"s":"DD","g":"k15"},{"t":12.198,"z":16.7,"s":"DD","g":"k15"},{"t":12.219,"z":18,"s":"DD","g":"k15"},{"t":12.241,"z":16.5,"s":"DD","g":"k15"},{"t":12.262,"z":17.4,"s":"DD","g":"k15"},{"t":12.283,"z":18.2,"s":"DD","g":"k15"},{"t":12.305,"z":16.7,"s":"DD","g":"k15"},{"t":12.332,"z":19.3,"s":"DD","g":"k15"},{"t":12.358,"z":19.6,"s":"DD","g":"k15"},{"t":12.385,"z":19.1,"s":"DD","g":"k15"},{"t":12.412,"z":17.2,"s":"DD","g":"k15"},{"t":12.439,"z":19.1,"s":"DD","g":"k15"},{"t":12.465,"z":23,"s":"DD","g":"k15"},{"t":12.487,"z":19.7,"s":"DD","g":"k15"},{"t":12.508,"z":20.9,"s":"DD","g":"k15"},{"t":12.529,"z":20.6,"s":"DD","g":"k15"},{"t":12.551,"z":18.7,"s":"DD","g":"k15"},{"t":12.572,"z":16.9,"s":"DD","g":"k15"},{"t":12.594,"z":14.6,"s":"DD","g":"k15"},{"t":12.615,"z":10.6,"s":"DD","g":"k15"},{"t":12.636,"z":7.8,"s":"DD","g":"k15"},{"t":12.658,"z":10.4,"s":"DD","g":"k15"},{"t":12.679,"z":9.5,"s":"DD","g":"k15"},{"t":12.701,"z":8.4,"s":"DD","g":"k15"},{"t":12.722,"z":11.7,"s":"DD","g":"k15"},{"t":12.743,"z":9.9,"s":"DD","g":"k15"},{"t":12.765,"z":13.2,"s":"DD","g":"k15"},{"t":12.786,"z":11.3,"s":"DD","g":"k15"},{"t":12.807,"z":9.5,"s":"DD","g":"k15"},{"t":12.829,"z":7.8,"s":"DD","g":"k15"},{"t":12.850,"z":10.8,"s":"DD","g":"k15"},{"t":12.872,"z":11.3,"s":"DD","g":"k15"},{"t":12.893,"z":11,"s":"DD","g":"k15"},{"t":12.914,"z":10.6,"s":"DD","g":"k15"},{"t":12.936,"z":9.5,"s":"DD","g":"k15"},{"t":12.957,"z":11,"s":"DD","g":"k15"},{"t":12.979,"z":10.6,"s":"DD","g":"k15"},{"t":13.000,"z":11.3,"s":"DD","g":"k15"},{"t":13.021,"z":12.4,"s":"DD","g":"k15"},{"t":13.043,"z":15.6,"s":"DD","g":"k15"},{"t":13.064,"z":11.1,"s":"DD","g":"k15"},{"t":13.086,"z":12.4,"s":"DD","g":"k15"},{"t":13.107,"z":11.3,"s":"DD","g":"k15"},{"t":13.128,"z":10.6,"s":"DD","g":"k15"},{"t":13.150,"z":7.8,"s":"DD","g":"k15"},{"t":13.171,"z":9.1,"s":"DD","g":"k15"},{"t":13.193,"z":11,"s":"DD","g":"k15"},{"t":13.214,"z":9.5,"s":"DD","g":"k15"},{"t":13.235,"z":7.6,"s":"DD","g":"k15"},{"t":13.257,"z":9.9,"s":"DD","g":"k15"},{"t":13.278,"z":10.6,"s":"DD","g":"k15"},{"t":13.299,"z":12.2,"s":"DD","g":"k15"},{"t":13.321,"z":9.5,"s":"DD","g":"k15"},{"t":13.342,"z":9.5,"s":"DD","g":"k15"},{"t":13.364,"z":11,"s":"DD","g":"k15"},{"t":13.385,"z":9.5,"s":"DD","g":"k15"},{"t":13.406,"z":11,"s":"DD","g":"k15"},{"t":13.428,"z":9.5,"s":"DD","g":"k15"},{"t":13.449,"z":9.5,"s":"DD","g":"k15"},{"t":13.471,"z":9.1,"s":"DD","g":"k15"},{"t":13.492,"z":8,"s":"DD","g":"k15"},{"t":13.513,"z":8,"s":"DD","g":"k15"},{"t":13.535,"z":5,"s":"DD","g":"k15"},{"t":13.556,"z":4,"s":"DD","g":"k15"},{"t":13.578,"z":4.5,"s":"DD","g":"k15"},{"t":13.599,"z":3.6,"s":"DD","g":"k15"},{"t":13.620,"z":5,"s":"DD","g":"k15"},{"t":13.642,"z":4.7,"s":"DD","g":"k15"},{"t":13.663,"z":5,"s":"DD","g":"k15"},{"t":13.684,"z":3.2,"s":"DD","g":"k15"},{"t":13.706,"z":1.7,"s":"DD","g":"k15"},{"t":13.727,"z":0.2,"s":"DD","g":"k15"},{"t":13.749,"z":2.5,"s":"DD","g":"k15"},{"t":13.770,"z":2.8,"s":"DD","g":"k15"},{"t":13.791,"z":3.2,"s":"DD","g":"k15"},{"t":13.813,"z":1.7,"s":"DD","g":"k15"},{"t":13.829,"z":-1.8,"s":"DD","g":"k15"},{"t":13.845,"z":2.5,"s":"DD","g":"k15"},{"t":13.866,"z":4.7,"s":"DD","g":"k15"},{"t":13.888,"z":9.1,"s":"DD","g":"k15"},{"t":13.909,"z":18,"s":"DD","g":"k15"},{"t":13.930,"z":17.2,"s":"DD","g":"k15"},{"t":13.952,"z":21.1,"s":"DD","g":"k15"},{"t":13.984,"z":19.1,"s":"DD","g":"k15"},{"t":14.005,"z":10.6,"s":"DD","g":"k15"},{"t":14.027,"z":6.6,"s":"DD","g":"k15"},{"t":14.048,"z":10.6,"s":"DD","g":"k15"},{"t":14.075,"z":18,"s":"DD","g":"k15"},{"t":14.096,"z":20.2,"s":"DD","g":"k15"},{"t":14.112,"z":9.9,"s":"DD","g":"k15"},{"t":14.128,"z":-0.8,"s":"DD","g":"k15"},{"t":14.150,"z":-7,"s":"DD","g":"k15"},{"t":14.171,"z":-1.2,"s":"DD","g":"k15"},{"t":14.193,"z":-4.8,"s":"DD","g":"k15"},{"t":14.214,"z":-0.4,"s":"DD","g":"k15"},{"t":14.235,"z":2.9,"s":"DD","g":"k15"},{"t":14.257,"z":4.6,"s":"DD","g":"k15"},{"t":14.278,"z":9.2,"s":"DD","g":"k15"},{"t":14.299,"z":8,"s":"DD","g":"k15"},{"t":14.321,"z":5.8,"s":"DD","g":"k15"},{"t":14.342,"z":3.6,"s":"DD","g":"k15"},{"t":14.364,"z":0.6,"s":"DD","g":"k15"},{"t":14.385,"z":-1.9,"s":"DD","g":"k15"},{"t":14.401,"z":-3.9,"s":"DD","g":"k15"},
      {"t":14.663,"z":2.7,"s":"DD","g":"k16"},{"t":14.679,"z":-1.9,"s":"DD","g":"k16"},{"t":14.706,"z":2.5,"s":"DD","g":"k16"},{"t":14.727,"z":-1.9,"s":"DD","g":"k16"},{"t":14.743,"z":-3.7,"s":"DD","g":"k16"},{"t":14.759,"z":0.7,"s":"DD","g":"k16"},{"t":14.786,"z":1.8,"s":"DD","g":"k16"},{"t":14.807,"z":2.5,"s":"DD","g":"k16"},{"t":14.829,"z":4.4,"s":"DD","g":"k16"},{"t":14.850,"z":2.5,"s":"DD","g":"k16"},{"t":14.872,"z":-0.7,"s":"DD","g":"k16"},{"t":14.893,"z":2.5,"s":"DD","g":"k16"},{"t":14.914,"z":4,"s":"DD","g":"k16"},{"t":14.936,"z":5.8,"s":"DD","g":"k16"},{"t":14.957,"z":8,"s":"DD","g":"k16"},{"t":14.979,"z":8.6,"s":"DD","g":"k16"},{"t":14.995,"z":4.6,"s":"DD","g":"k16"},{"t":15.016,"z":3.6,"s":"DD","g":"k16"},{"t":15.037,"z":-0.4,"s":"DD","g":"k16"},{"t":15.059,"z":-2.2,"s":"DD","g":"k16"},{"t":15.075,"z":4,"s":"DD","g":"k16"},{"t":15.091,"z":11,"s":"DD","g":"k16"},{"t":15.112,"z":11.5,"s":"DD","g":"k16"},{"t":15.134,"z":12.4,"s":"DD","g":"k16"},{"t":15.155,"z":13.6,"s":"DD","g":"k16"},{"t":15.176,"z":15.4,"s":"DD","g":"k16"},{"t":15.198,"z":16.9,"s":"DD","g":"k16"},{"t":15.219,"z":15.2,"s":"DD","g":"k16"},{"t":15.241,"z":15,"s":"DD","g":"k16"},{"t":15.262,"z":13.6,"s":"DD","g":"k16"},{"t":15.283,"z":12.5,"s":"DD","g":"k16"},{"t":15.305,"z":12.1,"s":"DD","g":"k16"},{"t":15.326,"z":11.9,"s":"DD","g":"k16"},{"t":15.348,"z":9.2,"s":"DD","g":"k16"},{"t":15.369,"z":5.1,"s":"DD","g":"k16"},{"t":15.390,"z":0.7,"s":"DD","g":"k16"},{"t":15.412,"z":-3.3,"s":"DD","g":"k16"},{"t":15.428,"z":-7.8,"s":"DD","g":"k16"},{"t":15.444,"z":-6.7,"s":"DD","g":"k16"},
      {"t":15.465,"z":-5.6,"s":"DD","g":"k17"},{"t":15.492,"z":-4.3,"s":"DD","g":"k17"},{"t":15.519,"z":-4.1,"s":"DD","g":"k17"},
      {"t":16.239,"z":-6.2,"s":"DD","g":"k18"},{"t":16.265,"z":-5.6,"s":"DD","g":"k18"},{"t":16.287,"z":-5.1,"s":"DD","g":"k18"},{"t":16.308,"z":-5.6,"s":"DD","g":"k18"},{"t":16.329,"z":-3.3,"s":"DD","g":"k18"},{"t":16.351,"z":-2.9,"s":"DD","g":"k18"},{"t":16.372,"z":-1.4,"s":"DD","g":"k18"},{"t":16.393,"z":0.9,"s":"DD","g":"k18"},{"t":16.410,"z":2.1,"s":"DD","g":"k18"},{"t":16.426,"z":1.5,"s":"DD","g":"k18"},{"t":16.447,"z":2.3,"s":"DD","g":"k18"},{"t":16.468,"z":-1.4,"s":"DD","g":"k18"},{"t":16.490,"z":-0.6,"s":"DD","g":"k18"},{"t":16.511,"z":0.2,"s":"DD","g":"k18"},{"t":16.532,"z":0.5,"s":"DD","g":"k18"},{"t":16.554,"z":0.2,"s":"DD","g":"k18"},{"t":16.575,"z":1.3,"s":"DD","g":"k18"},{"t":16.596,"z":2.1,"s":"DD","g":"k18"},{"t":16.628,"z":2.9,"s":"DD","g":"k18"},
      {"t":16.650,"z":-2.7,"s":"DD","g":"k19"},{"t":16.671,"z":-3.3,"s":"DD","g":"k19"},{"t":16.692,"z":-4.1,"s":"DD","g":"k19"},{"t":16.714,"z":-4.7,"s":"DD","g":"k19"},{"t":16.724,"z":-5.3,"s":"DD","g":"k19"},{"t":16.746,"z":-4.5,"s":"DD","g":"k19"},
      {"t":16.917,"z":4.8,"s":"DD","g":"k20"},{"t":16.938,"z":9,"s":"DD","g":"k20"},{"t":16.965,"z":8.8,"s":"DD","g":"k20"},{"t":16.986,"z":8.3,"s":"DD","g":"k20"},{"t":17.013,"z":6.7,"s":"DD","g":"k20"},{"t":17.039,"z":7.1,"s":"DD","g":"k20"},{"t":17.066,"z":6.3,"s":"DD","g":"k20"},{"t":17.082,"z":1.7,"s":"DD","g":"k20"},{"t":17.098,"z":-6.2,"s":"DD","g":"k20"},
      {"t":17.376,"z":-3.3,"s":"DD","g":"k21"},{"t":17.397,"z":-1.4,"s":"DD","g":"k21"},{"t":17.419,"z":0.9,"s":"DD","g":"k21"},{"t":17.440,"z":0.5,"s":"DD","g":"k21"},{"t":17.456,"z":-1.8,"s":"DD","g":"k21"},{"t":17.477,"z":-1.8,"s":"DD","g":"k21"},{"t":17.499,"z":-2,"s":"DD","g":"k21"},{"t":17.520,"z":-0.2,"s":"DD","g":"k21"},{"t":17.541,"z":2.5,"s":"DD","g":"k21"},{"t":17.563,"z":4.4,"s":"DD","g":"k21"},{"t":17.584,"z":6.7,"s":"DD","g":"k21"},{"t":17.605,"z":7.7,"s":"DD","g":"k21"},{"t":17.632,"z":7.7,"s":"DD","g":"k21"},{"t":17.648,"z":-1,"s":"DD","g":"k21"},
      {"t":18.017,"z":-4.3,"s":"DD","g":"k22"},{"t":18.038,"z":0.5,"s":"DD","g":"k22"},{"t":18.059,"z":0.9,"s":"DD","g":"k22"},{"t":18.075,"z":3.6,"s":"DD","g":"k22"},{"t":18.091,"z":-1,"s":"DD","g":"k22"},{"t":18.113,"z":1.3,"s":"DD","g":"k22"},{"t":18.134,"z":0.9,"s":"DD","g":"k22"},
      {"t":18.187,"z":-3.3,"s":"DD","g":"k23"},{"t":18.209,"z":-7,"s":"DD","g":"k23"},{"t":18.230,"z":-3.7,"s":"DD","g":"k23"},{"t":18.251,"z":-3.3,"s":"DD","g":"k23"},
      {"t":18.894,"z":0.1,"s":"DD","g":"k24"},{"t":18.921,"z":0.4,"s":"DD","g":"k24"},{"t":18.947,"z":4.6,"s":"DD","g":"k24"},{"t":18.974,"z":4.2,"s":"DD","g":"k24"},{"t":18.990,"z":5.3,"s":"DD","g":"k24"},{"t":19.006,"z":1.5,"s":"DD","g":"k24"}
    ]
  },
  "layer": [
    {
      "mark": {"type": "line", "strokeWidth": 2.6, "clip": true},
      "encoding": {
        "x": {
          "field": "t", "type": "quantitative",
          "scale": {"domain": [0, 24], "nice": false, "zero": false},
          "axis": {
            "orient": "bottom",
            "values": [0, 3, 6, 9, 12, 15, 18, 21],
            "labelExpr": "(datum.value < 10 ? '0' : '') + datum.value + ':00'",
            "domain": true, "domainColor": "black", "domainWidth": 1.2,
            "grid": true, "gridColor": "#d3d3d3", "gridDash": [5, 3], "gridWidth": 1,
            "tickSize": 5, "tickColor": "black", "tickWidth": 1.1,
            "labelFontSize": 16.5, "labelColor": "black", "labelPadding": 3,
            "labelFlush": false, "labelOverlap": false, "labelBound": false,
            "title": ["Measurement site: Hyytiälä (61.844N, 24.287E, 150m)", "SMEAR II", "28-07-2026"],
            "titleFont": "DejaVu Sans", "titleFontSize": 22, "titleFontWeight": "normal",
            "titleColor": "black", "titleLineHeight": 23,
            "titleX": 712, "titleY": -921, "titleAlign": "center", "titleBaseline": "alphabetic"
          }
        },
        "y": {
          "field": "z", "type": "quantitative",
          "scale": {"domain": [-60, 30], "nice": false, "zero": false},
          "axis": {
            "orient": "left",
            "values": [-60, -50, -40, -30, -20, -10, 0, 10, 20, 30],
            "domain": true, "domainColor": "black", "domainWidth": 1.2,
            "grid": true, "gridColor": "#d3d3d3", "gridDash": [5, 3], "gridWidth": 1,
            "tickSize": 5, "tickColor": "black", "tickWidth": 1.1,
            "labelFontSize": 16.5, "labelColor": "black", "labelPadding": 4,
            "labelFlush": false, "labelOverlap": false, "labelBound": false,
            "title": "Zₕ [dBZ]", "titleFontSize": 19, "titleFontWeight": "normal",
            "titleFontStyle": "italic", "titleColor": "black",
            "titleX": -64.5, "titleY": 409.5, "titleAngle": -90,
            "titleAlign": "center", "titleBaseline": "middle"
          }
        },
        "color": {
          "field": "s", "type": "nominal",
          "scale": {"domain": ["DCR", "DD"], "range": ["#1f77b4", "#000000"]},
          "legend": {
            "title": null, "orient": "none", "legendX": 1249, "legendY": 10,
            "labelExpr": "datum.label == 'DCR' ? 'Zₕ from DCR @ 179m' : 'Zₕ modeled from DD'",
            "symbolType": "M-1.85,0H1.85", "symbolSize": 400, "symbolStrokeWidth": 2.6,
            "symbolOffset": 6.5,
            "labelFontSize": 16.5, "labelColor": "black", "labelLimit": 400, "labelOffset": 16,
            "strokeColor": "#cccccc", "fillColor": "white", "cornerRadius": 3,
            "padding": 6, "rowPadding": 9
          }
        },
        "detail": {"field": "g"}
      }
    },
    {
      "mark": {"type": "point", "opacity": 0},
      "encoding": {
        "x": {
          "field": "t", "type": "quantitative",
          "axis": {
            "orient": "bottom",
            "values": [1, 2, 4, 5, 7, 8, 10, 11, 13, 14, 16, 17, 19, 20, 22, 23],
            "labels": false, "domain": false, "grid": false,
            "tickSize": 3, "tickColor": "black", "tickWidth": 1,
            "title": "Reflectivity from RPG-Radiometer Physics RPG-FMCW-94 DCR and OTT HydroMet Parsivel2 disdrometer",
            "titleFont": "DejaVu Sans", "titleFontSize": 16.6, "titleFontStyle": "italic",
            "titleFontWeight": "normal", "titleColor": "black",
            "titleX": 748, "titleY": -827, "titleAlign": "center", "titleBaseline": "alphabetic"
          }
        },
        "y": {
          "field": "z", "type": "quantitative",
          "axis": {
            "orient": "left",
            "values": [-58, -56, -54, -52, -48, -46, -44, -42, -38, -36, -34, -32, -28, -26, -24, -22, -18, -16, -14, -12, -8, -6, -4, -2, 2, 4, 6, 8, 12, 14, 16, 18, 22, 24, 26, 28],
            "labels": false, "title": null, "domain": false, "grid": false,
            "tickSize": 3, "tickColor": "black", "tickWidth": 1
          }
        }
      }
    },
    {
      "mark": {"type": "point", "opacity": 0},
      "encoding": {
        "x": {
          "field": "t", "type": "quantitative",
          "axis": {
            "orient": "top", "labels": false, "ticks": false, "grid": false,
            "domain": true, "domainColor": "black", "domainWidth": 1.2,
            "title": "A\u2002C\u2002T\u2002R\u2002I\u2002S", "titleFont": "Lato", "titleFontSize": 27,
            "titleFontWeight": "normal", "titleColor": "#12123a",
            "titleX": 1288, "titleY": -60, "titleAlign": "center", "titleBaseline": "alphabetic"
          }
        },
        "y": {
          "field": "z", "type": "quantitative",
          "axis": {
            "orient": "right", "labels": false, "ticks": false, "grid": false,
            "domain": true, "domainColor": "black", "domainWidth": 1.2,
            "title": "CCRES", "titleFont": "Open Sans", "titleFontSize": 17, "titleAngle": 0,
            "titleFontWeight": "normal", "titleColor": "#12123a",
            "titleX": -208, "titleY": -39, "titleAlign": "center", "titleBaseline": "alphabetic"
          }
        }
      }
    }
  ],
  "resolve": {"axis": {"x": "independent", "y": "independent"}}
}
